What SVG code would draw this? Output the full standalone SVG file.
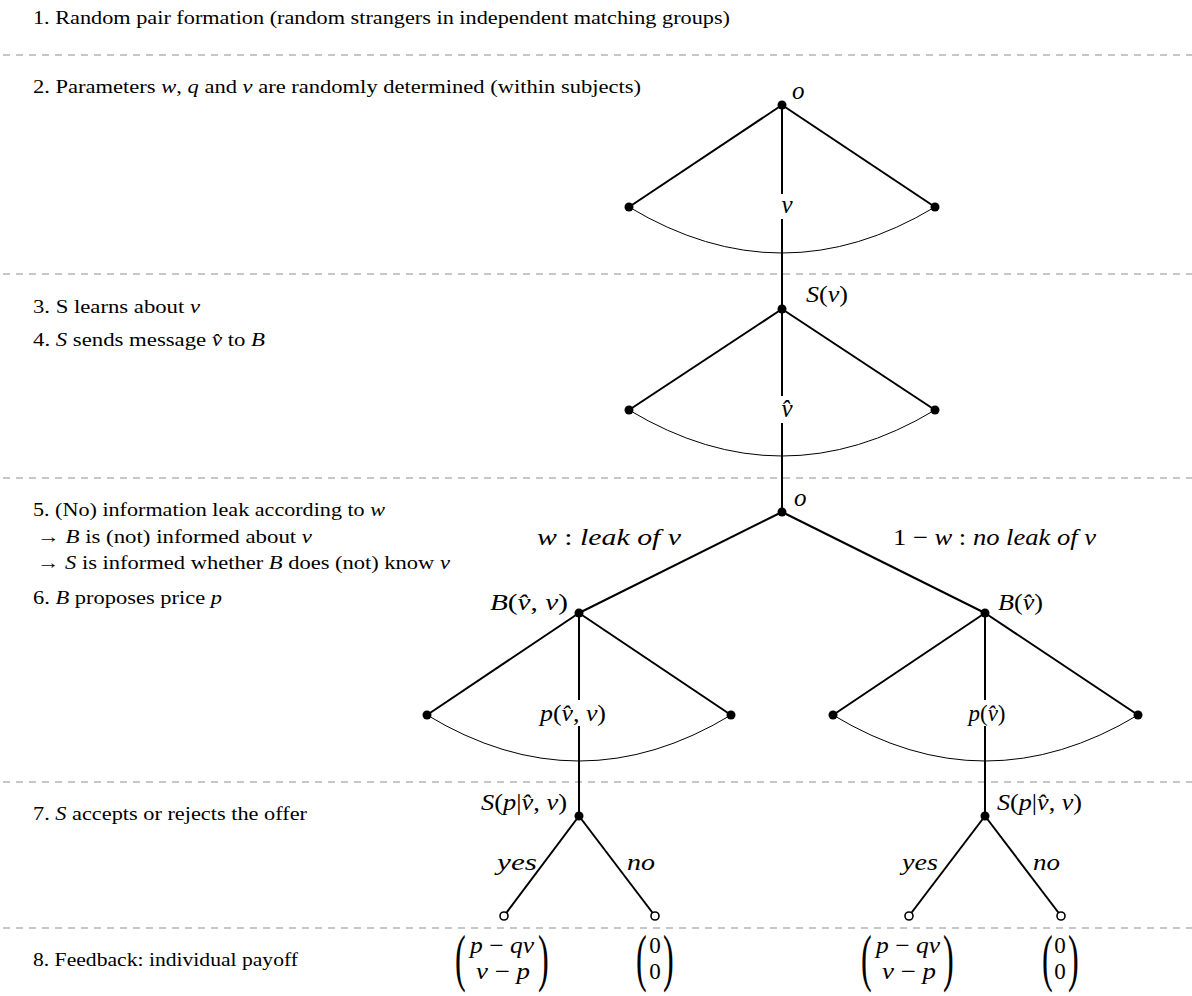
<svg xmlns="http://www.w3.org/2000/svg" width="1192" height="996" viewBox="0 0 1192 996" font-family="'Liberation Serif', serif">
<style>
text{font-family:"Liberation Serif","DejaVu Serif",serif;fill:#000}
.t{font-size:19px}
.m{font-size:23px}
.l{font-size:25px}
.i{font-style:italic}
.dash{stroke:#b5b5b5;stroke-width:1.3;stroke-dasharray:7 6;fill:none}
.edge{stroke:#000;stroke-width:2;fill:none}
.arc{stroke:#000;stroke-width:1;fill:none}
.dot{fill:#000}
.leaf{fill:#fff;stroke:#000;stroke-width:1.6}
.bg{fill:#fff}
</style>
<rect width="1192" height="996" fill="#fff"/>
<g id="separators">
<line class="dash" x1="3" y1="55" x2="1192" y2="55"/>
<line class="dash" x1="3" y1="274" x2="1192" y2="274"/>
<line class="dash" x1="3" y1="478" x2="1192" y2="478"/>
<line class="dash" x1="3" y1="782" x2="1192" y2="782"/>
<line class="dash" x1="3" y1="928" x2="1192" y2="928"/>
</g>
<g id="stages">
<text class="t" x="33" y="24" textLength="697" lengthAdjust="spacingAndGlyphs">1. Random pair formation (random strangers in independent matching groups)</text>
<text class="t" x="33" y="93" textLength="608" lengthAdjust="spacingAndGlyphs">2. Parameters <tspan class="i">w</tspan>, <tspan class="i">q</tspan> and <tspan class="i">v</tspan> are randomly determined (within subjects)</text>
<text class="t" x="33" y="313" textLength="167" lengthAdjust="spacingAndGlyphs">3. S learns about <tspan class="i">v</tspan></text>
<text class="t" x="33" y="346" textLength="232" lengthAdjust="spacingAndGlyphs">4. <tspan class="i">S</tspan> sends message <tspan class="i">v̂</tspan> to <tspan class="i">B</tspan></text>
<text class="t" x="33" y="516" textLength="352" lengthAdjust="spacingAndGlyphs">5. (No) information leak according to <tspan class="i">w</tspan></text>
<text class="t" x="37" y="543" textLength="275" lengthAdjust="spacingAndGlyphs">→ <tspan class="i">B</tspan> is (not) informed about <tspan class="i">v</tspan></text>
<text class="t" x="37" y="569" textLength="413" lengthAdjust="spacingAndGlyphs">→ <tspan class="i">S</tspan> is informed whether <tspan class="i">B</tspan> does (not) know <tspan class="i">v</tspan></text>
<text class="t" x="33" y="604" textLength="189" lengthAdjust="spacingAndGlyphs">6. <tspan class="i">B</tspan> proposes price <tspan class="i">p</tspan></text>
<text class="t" x="33" y="820" textLength="274" lengthAdjust="spacingAndGlyphs">7. <tspan class="i">S</tspan> accepts or rejects the offer</text>
<text class="t" x="33" y="966" textLength="265" lengthAdjust="spacingAndGlyphs">8. Feedback: individual payoff</text>
</g>
<g id="connectors">
<path class="arc" d="M629,207 Q782,299 935,207"/>
<path class="arc" d="M629,410 Q782,502 935,410"/>
<path class="arc" d="M427,715 Q579,807 731,715"/>
<path class="arc" d="M833,715 Q985,807 1138,715"/>
<line class="edge" x1="782" y1="105" x2="629" y2="207"/>
<line class="edge" x1="782" y1="105" x2="935" y2="207"/>
<line class="edge" x1="782" y1="105" x2="782" y2="309"/>
<line class="edge" x1="782" y1="309" x2="629" y2="410"/>
<line class="edge" x1="782" y1="309" x2="935" y2="410"/>
<line class="edge" x1="782" y1="309" x2="782" y2="512"/>
<line class="edge" x1="782" y1="512" x2="579" y2="613"/>
<line class="edge" x1="782" y1="512" x2="985" y2="613"/>
<line class="edge" x1="579" y1="613" x2="427" y2="715"/>
<line class="edge" x1="579" y1="613" x2="731" y2="715"/>
<line class="edge" x1="579" y1="613" x2="579" y2="816"/>
<line class="edge" x1="985" y1="613" x2="833" y2="715"/>
<line class="edge" x1="985" y1="613" x2="1138" y2="715"/>
<line class="edge" x1="985" y1="613" x2="985" y2="816"/>
<line class="edge" x1="579" y1="816" x2="504" y2="916"/>
<line class="edge" x1="579" y1="816" x2="655" y2="916"/>
<line class="edge" x1="985" y1="816" x2="909" y2="916"/>
<line class="edge" x1="985" y1="816" x2="1061" y2="916"/>
<rect class="bg" x="776" y="194" width="22" height="25"/>
<rect class="bg" x="776" y="396" width="22" height="27"/>
<rect class="bg" x="538" y="700" width="70" height="26"/>
<rect class="bg" x="967" y="700" width="40" height="26"/>
<text class="l i" x="787" y="213" text-anchor="middle">v</text>
<text class="l i" x="787" y="417" text-anchor="middle">v̂</text>
<text class="m" x="540" y="721" textLength="66" lengthAdjust="spacingAndGlyphs"><tspan class="i">p</tspan>(<tspan class="i">v̂</tspan>, <tspan class="i">v</tspan>)</text>
<text class="m" x="987" y="721" text-anchor="middle"><tspan class="i">p</tspan>(<tspan class="i">v̂</tspan>)</text>
<text class="m" x="537" y="545" textLength="144" lengthAdjust="spacingAndGlyphs"><tspan class="i">w</tspan> : <tspan class="i">leak of v</tspan></text>
<text class="m" x="893" y="545" textLength="203" lengthAdjust="spacingAndGlyphs">1 − <tspan class="i">w</tspan> : <tspan class="i">no leak of v</tspan></text>
<text class="m i" x="497" y="870" textLength="40" lengthAdjust="spacingAndGlyphs">yes</text>
<text class="m i" x="627" y="870" textLength="28" lengthAdjust="spacingAndGlyphs">no</text>
<text class="m i" x="902" y="870" textLength="36" lengthAdjust="spacingAndGlyphs">yes</text>
<text class="m i" x="1033" y="870" textLength="27" lengthAdjust="spacingAndGlyphs">no</text>
</g>
<g id="node-o1">
<circle class="dot" cx="782" cy="105" r="4.5"/>
<text class="l i" x="792" y="99">o</text>
</g>
<g id="node-o1-left"><circle class="dot" cx="629" cy="207" r="4.5"/></g>
<g id="node-o1-right"><circle class="dot" cx="935" cy="207" r="4.5"/></g>
<g id="node-Sv">
<circle class="dot" cx="782" cy="309" r="4.5"/>
<text class="m" x="806" y="302" textLength="42" lengthAdjust="spacingAndGlyphs"><tspan class="i">S</tspan>(<tspan class="i">v</tspan>)</text>
</g>
<g id="node-Sv-left"><circle class="dot" cx="629" cy="410" r="4.5"/></g>
<g id="node-Sv-right"><circle class="dot" cx="935" cy="410" r="4.5"/></g>
<g id="node-o2">
<circle class="dot" cx="782" cy="512" r="4.5"/>
<text class="l i" x="794" y="506">o</text>
</g>
<g id="node-B-leak">
<circle class="dot" cx="579" cy="613" r="4.5"/>
<text class="m" x="490" y="610" textLength="78" lengthAdjust="spacingAndGlyphs"><tspan class="i">B</tspan>(<tspan class="i">v̂</tspan>, <tspan class="i">v</tspan>)</text>
</g>
<g id="node-B-leak-left"><circle class="dot" cx="427" cy="715" r="4.5"/></g>
<g id="node-B-leak-right"><circle class="dot" cx="731" cy="715" r="4.5"/></g>
<g id="node-B-noleak">
<circle class="dot" cx="985" cy="613" r="4.5"/>
<text class="m" x="998" y="610" textLength="45" lengthAdjust="spacingAndGlyphs"><tspan class="i">B</tspan>(<tspan class="i">v̂</tspan>)</text>
</g>
<g id="node-B-noleak-left"><circle class="dot" cx="833" cy="715" r="4.5"/></g>
<g id="node-B-noleak-right"><circle class="dot" cx="1138" cy="715" r="4.5"/></g>
<g id="node-S-leak">
<circle class="dot" cx="579" cy="816" r="4.5"/>
<text class="m" x="481" y="810" textLength="86" lengthAdjust="spacingAndGlyphs"><tspan class="i">S</tspan>(<tspan class="i">p</tspan>|<tspan class="i">v̂</tspan>, <tspan class="i">v</tspan>)</text>
</g>
<g id="node-S-noleak">
<circle class="dot" cx="985" cy="816" r="4.5"/>
<text class="m" x="997" y="810" textLength="85" lengthAdjust="spacingAndGlyphs"><tspan class="i">S</tspan>(<tspan class="i">p</tspan>|<tspan class="i">v̂</tspan>, <tspan class="i">v</tspan>)</text>
</g>
<g id="leaf-1">
<circle class="leaf" cx="504" cy="916" r="4"/>
<text class="m" transform="translate(455,979) scale(1.4,2.8)">(</text>
<text class="m" x="470" y="953" textLength="64" lengthAdjust="spacingAndGlyphs"><tspan class="i">p</tspan> − <tspan class="i">qv</tspan></text>
<text class="m" x="476" y="979" textLength="54" lengthAdjust="spacingAndGlyphs"><tspan class="i">v</tspan> − <tspan class="i">p</tspan></text>
<text class="m" transform="translate(538,979) scale(1.4,2.8)">)</text>
</g>
<g id="leaf-2">
<circle class="leaf" cx="655" cy="916" r="4"/>
<text class="m" transform="translate(636,979) scale(1.4,2.8)">(</text>
<text class="m" x="655" y="953" text-anchor="middle">0</text>
<text class="m" x="655" y="979" text-anchor="middle">0</text>
<text class="m" transform="translate(663,979) scale(1.4,2.8)">)</text>
</g>
<g id="leaf-3">
<circle class="leaf" cx="909" cy="916" r="4"/>
<text class="m" transform="translate(861,979) scale(1.4,2.8)">(</text>
<text class="m" x="876" y="953" textLength="64" lengthAdjust="spacingAndGlyphs"><tspan class="i">p</tspan> − <tspan class="i">qv</tspan></text>
<text class="m" x="882" y="979" textLength="54" lengthAdjust="spacingAndGlyphs"><tspan class="i">v</tspan> − <tspan class="i">p</tspan></text>
<text class="m" transform="translate(943,979) scale(1.4,2.8)">)</text>
</g>
<g id="leaf-4">
<circle class="leaf" cx="1061" cy="916" r="4"/>
<text class="m" transform="translate(1042,979) scale(1.4,2.8)">(</text>
<text class="m" x="1060" y="953" text-anchor="middle">0</text>
<text class="m" x="1060" y="979" text-anchor="middle">0</text>
<text class="m" transform="translate(1068,979) scale(1.4,2.8)">)</text>
</g>
</svg>
